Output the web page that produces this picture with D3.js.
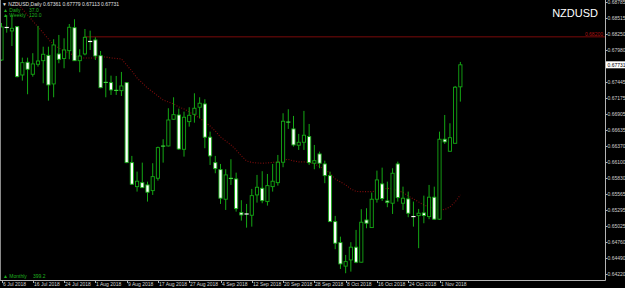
<!DOCTYPE html>
<html>
<head>
<meta charset="utf-8">
<script src="https://cdn.jsdelivr.net/npm/d3@7"></script>
<style>
  html, body { margin: 0; padding: 0; background: #000; }
  #chart { width: 625px; height: 288px; }
  text { font-family: 'Liberation Sans', Arial, sans-serif; }
</style>
</head>
<body>
<div id="chart"></div>
<script>
// NZDUSD daily bars, 6 Jul 2018 .. 7 Nov 2018
const opens = [0.67812,0.68366,0.68299,0.68371,0.67560,0.67774,0.67572,0.67740,0.67800,0.67890,
  0.67410,0.67913,0.67837,0.67968,0.68354,0.67800,0.67913,0.68131,0.68148,0.67884,
  0.67433,0.67432,0.67299,0.67297,0.67432,0.66089,0.65686,0.65753,0.65715,0.65619,
  0.65827,0.66364,0.66369,0.66817,0.66889,0.66313,0.66777,0.66901,0.67019,0.67074,
  0.66516,0.66089,0.65972,0.65475,0.65822,0.65815,0.65250,0.65231,0.65206,0.65547,
  0.65659,0.65435,0.65686,0.65753,0.66096,0.66767,0.66655,0.66381,0.66431,0.66526,
  0.66079,0.66235,0.66067,0.65871,0.65099,0.64747,0.64352,0.64456,0.64670,0.64418,
  0.65127,0.64999,0.65475,0.65732,0.65446,0.65408,0.66067,0.65408,0.65480,0.65195,
  0.65200,0.65245,0.65183,0.65509,0.65140,0.66482,0.66280,0.66414,0.67361];

const highs = [0.68433,0.68567,0.68567,0.68380,0.67851,0.67851,0.67926,0.68383,0.68035,0.68035,
  0.68160,0.68232,0.68176,0.68416,0.68495,0.67992,0.68332,0.68304,0.68193,0.67963,
  0.67673,0.67549,0.67544,0.67611,0.67440,0.66202,0.65938,0.66089,0.65770,0.66079,
  0.66358,0.66482,0.67002,0.67186,0.66995,0.66945,0.67019,0.67253,0.67186,0.67153,
  0.66609,0.66202,0.66067,0.65978,0.66146,0.65921,0.65459,0.65396,0.65648,0.65883,
  0.65945,0.65899,0.66067,0.66218,0.66918,0.66985,0.66873,0.66571,0.66957,0.66738,
  0.66386,0.66274,0.66122,0.65938,0.65195,0.64847,0.64540,0.64754,0.64960,0.65307,
  0.65324,0.65586,0.65955,0.66005,0.65770,0.65995,0.66106,0.65686,0.65603,0.65435,
  0.65312,0.65535,0.65715,0.65686,0.66609,0.66889,0.66750,0.67376,0.67779];

const lows = [0.67795,0.68270,0.68047,0.67520,0.67465,0.67237,0.67532,0.67700,0.67421,0.67129,
  0.67186,0.67757,0.67673,0.67824,0.67795,0.67606,0.67890,0.67980,0.67812,0.67337,
  0.67186,0.67225,0.67225,0.67208,0.66080,0.65715,0.65603,0.65664,0.65435,0.65547,
  0.65787,0.66089,0.66361,0.66805,0.66302,0.66190,0.66693,0.66760,0.66834,0.66331,
  0.66050,0.65911,0.65396,0.65295,0.65715,0.65267,0.65116,0.64998,0.65015,0.65418,
  0.65408,0.65368,0.65603,0.65703,0.66012,0.66655,0.66358,0.66302,0.66302,0.66050,
  0.65978,0.65995,0.65744,0.65094,0.64636,0.64305,0.64233,0.64260,0.64401,0.64413,
  0.64988,0.64994,0.65418,0.65446,0.65341,0.65228,0.65435,0.65295,0.65173,0.65015,
  0.64653,0.65072,0.65140,0.65128,0.65128,0.66403,0.66275,0.66409,0.67113];

const closes = [0.68366,0.68349,0.68344,0.67532,0.67767,0.67656,0.67746,0.67795,0.67908,0.67393,
  0.68064,0.67824,0.67980,0.68361,0.67800,0.67879,0.68193,0.68114,0.67879,0.67347,
  0.67438,0.67309,0.67304,0.67376,0.66089,0.65727,0.65777,0.65669,0.65592,0.65854,
  0.66341,0.66369,0.66805,0.66894,0.66318,0.66851,0.66884,0.67002,0.67086,0.66516,
  0.66202,0.65988,0.65492,0.65883,0.65827,0.65317,0.65211,0.65223,0.65535,0.65676,
  0.65451,0.65703,0.65777,0.66096,0.66784,0.66772,0.66386,0.66431,0.66549,0.66089,
  0.66122,0.66079,0.65871,0.65099,0.64737,0.64389,0.64428,0.64670,0.64418,0.65089,
  0.65072,0.65475,0.65799,0.65485,0.65418,0.65911,0.65502,0.65492,0.65240,0.65173,
  0.65240,0.65200,0.65509,0.65140,0.66482,0.66437,0.66508,0.67355,0.67731];

// moving average (red dotted); first bars are above the window
const maValues = [null,null,null,0.68768,0.68668,0.68567,0.68466,0.68366,0.68265,0.68164,
  0.68064,0.68013,0.67963,0.67929,0.67879,0.67845,0.67845,0.67845,0.67845,0.67862,
  0.67862,0.67845,0.67837,0.67829,0.67728,0.67627,0.67510,0.67426,0.67342,0.67275,
  0.67208,0.67141,0.67107,0.67074,0.67023,0.66990,0.66939,0.66889,0.66839,0.66772,
  0.66704,0.66620,0.66520,0.66453,0.66386,0.66302,0.66202,0.66118,0.66093,0.66084,
  0.66079,0.66084,0.66093,0.66101,0.66135,0.66143,0.66118,0.66101,0.66101,0.66093,
  0.66067,0.66025,0.65966,0.65916,0.65816,0.65765,0.65715,0.65648,0.65606,0.65602,
  0.65602,0.65602,0.65614,0.65639,0.65659,0.65648,0.65622,0.65589,0.65530,0.65480,
  0.65430,0.65379,0.65345,0.65312,0.65295,0.65303,0.65345,0.65430,0.65547];

const priceTicks = [0.68785,0.68515,0.68250,0.67980,0.67715,0.67445,0.67175,0.66905,0.66635,
  0.66370,0.66100,0.65830,0.65565,0.65295,0.65025,0.64760,0.64490,0.64220];

const dateLabels = ['6 Jul 2018','16 Jul 2018','24 Jul 2018','1 Aug 2018','9 Aug 2018',
  '17 Aug 2018','27 Aug 2018','4 Sep 2018','12 Sep 2018','20 Sep 2018','28 Sep 2018',
  '8 Oct 2018','16 Oct 2018','24 Oct 2018','1 Nov 2018'];
const dateBars = [0,6,12,18,24,30,36,42,48,54,60,66,72,78,84];

const levelLine = { price: 0.68200, fromBar: 16 };
const lastPrice = 0.67731;

const legendLines = [
  { text: '\u25B2 Daily', value: '37.0' },
  { text: '\u25B2 Weekly', value: '120.0' }
];
const bottomLegend = { text: '\u25B2 Monthly', value: '399.2' };

const GREEN = '#14a814';
const AXIS = '#b4b4b4';

const W = 625, H = 288;
const plot = { left: 0, right: 605, top: 0, bottom: 280 };

const svg = d3.select('#chart').append('svg')
  .attr('width', W)
  .attr('height', H);

svg.append('rect').attr('width', W).attr('height', H).attr('fill', '#000');

const x = d3.scaleLinear().domain([0, 84]).range([1.5, 439.5]);
const y = d3.scaleLinear().domain([0.64220, 0.68785]).range([274, 2]);

svg.append('clipPath').attr('id', 'plotClip')
  .append('rect')
  .attr('x', plot.left + 1).attr('y', plot.top)
  .attr('width', plot.right - plot.left - 1).attr('height', plot.bottom - plot.top);

const g = svg.append('g').attr('clip-path', 'url(#plotClip)');

// level line
g.append('line')
  .attr('x1', x(levelLine.fromBar)).attr('x2', plot.right)
  .attr('y1', y(levelLine.price)).attr('y2', y(levelLine.price))
  .attr('stroke', '#7a0a0a').attr('stroke-width', 1);

// moving average
const maLine = d3.line()
  .defined(d => d != null)
  .x((d, i) => x(i))
  .y(d => y(d));

g.append('path')
  .datum(maValues)
  .attr('d', maLine)
  .attr('fill', 'none')
  .attr('stroke', '#7e0c0c')
  .attr('stroke-width', 1.1)
  .attr('stroke-dasharray', '1,1.6');

// candles
const bars = d3.range(opens.length).map(i => ({
  i, o: opens[i], h: highs[i], l: lows[i], c: closes[i]
}));

g.selectAll('.wick')
  .data(bars)
  .join('line')
  .attr('class', 'wick')
  .attr('x1', d => x(d.i)).attr('x2', d => x(d.i))
  .attr('y1', d => y(d.h)).attr('y2', d => y(d.l))
  .attr('stroke', GREEN).attr('stroke-width', 1);

const bodyW = 3.2;
bars.forEach(d => {
  const bull = d.c >= d.o;
  const top = y(Math.max(d.o, d.c));
  const bot = y(Math.min(d.o, d.c));
  if (bot - top < 1.5) {
    g.append('rect')
      .attr('x', x(d.i) - bodyW / 2 - 0.5).attr('y', (top + bot) / 2 - 0.6)
      .attr('width', bodyW + 1).attr('height', 1.2)
      .attr('fill', bull ? '#3ad43a' : '#fff');
  } else {
    g.append('rect')
      .attr('x', x(d.i) - bodyW / 2).attr('y', top)
      .attr('width', bodyW).attr('height', bot - top)
      .attr('fill', bull ? '#000' : '#fff')
      .attr('stroke', GREEN).attr('stroke-width', 0.9);
  }
});

// frame
svg.append('line').attr('x1', 0.5).attr('x2', 0.5).attr('y1', 0).attr('y2', plot.bottom)
  .attr('stroke', '#8a8a8a');
svg.append('line').attr('x1', plot.right + 0.5).attr('x2', plot.right + 0.5)
  .attr('y1', 0).attr('y2', plot.bottom + 0.5).attr('stroke', AXIS);
svg.append('line').attr('x1', 0).attr('x2', plot.right + 0.5)
  .attr('y1', plot.bottom + 0.5).attr('y2', plot.bottom + 0.5).attr('stroke', AXIS);

// price axis
const pa = svg.append('g');
priceTicks.forEach(p => {
  pa.append('line')
    .attr('x1', plot.right).attr('x2', plot.right + 2.5)
    .attr('y1', Math.round(y(p)) + 0.5).attr('y2', Math.round(y(p)) + 0.5)
    .attr('stroke', AXIS);
  pa.append('text')
    .attr('x', plot.right + 2.5).attr('y', y(p) + 1.8)
    .attr('font-size', '5px').attr('fill', '#d0d0d0')
    .text(p.toFixed(5));
});

// level label
svg.append('text')
  .attr('x', plot.right - 2).attr('y', y(levelLine.price) - 1)
  .attr('text-anchor', 'end')
  .attr('font-size', '5px').attr('fill', '#b01010')
  .text(levelLine.price.toFixed(5));

// last price box
svg.append('rect')
  .attr('x', plot.right + 1).attr('y', y(lastPrice) - 3.5)
  .attr('width', 19).attr('height', 7).attr('fill', '#fff');
svg.append('text')
  .attr('x', plot.right + 2.5).attr('y', y(lastPrice) + 1.8)
  .attr('font-size', '5px').attr('fill', '#000')
  .text(lastPrice.toFixed(5));

// date axis
dateLabels.forEach((label, k) => {
  const bx = Math.round(x(dateBars[k])) + 0.5;
  svg.append('line')
    .attr('x1', bx).attr('x2', bx)
    .attr('y1', plot.bottom).attr('y2', plot.bottom + 3)
    .attr('stroke', AXIS);
  svg.append('text')
    .attr('x', bx + 0.5).attr('y', 285.5)
    .attr('font-size', '5px').attr('fill', '#d0d0d0')
    .text(label);
});

// top-left info
svg.append('text')
  .attr('x', 2).attr('y', 5.5)
  .attr('font-size', '5px').attr('fill', '#e0e0e0')
  .text('\u25BC NZDUSD,Daily  ' + [opens, highs, lows, closes].map(a => a[a.length - 1].toFixed(5)).join(' '));

legendLines.forEach((l, k) => {
  const ty = 12 + k * 4.6;
  svg.append('text').attr('x', 3).attr('y', ty)
    .attr('font-size', '5px').attr('fill', '#1fb01f').text(l.text);
  svg.append('text').attr('x', 29).attr('y', ty)
    .attr('font-size', '5px').attr('fill', '#1fb01f').text(l.value);
});

svg.append('text').attr('x', 3).attr('y', 277.5)
  .attr('font-size', '5px').attr('fill', '#1fb01f').text(bottomLegend.text);
svg.append('text').attr('x', 33).attr('y', 277.5)
  .attr('font-size', '5px').attr('fill', '#1fb01f').text(bottomLegend.value);

// symbol title
svg.append('text')
  .attr('x', 598).attr('y', 17)
  .attr('text-anchor', 'end')
  .attr('font-size', '11px').attr('fill', '#fff')
  .text('NZDUSD');
</script>
</body>
</html>
